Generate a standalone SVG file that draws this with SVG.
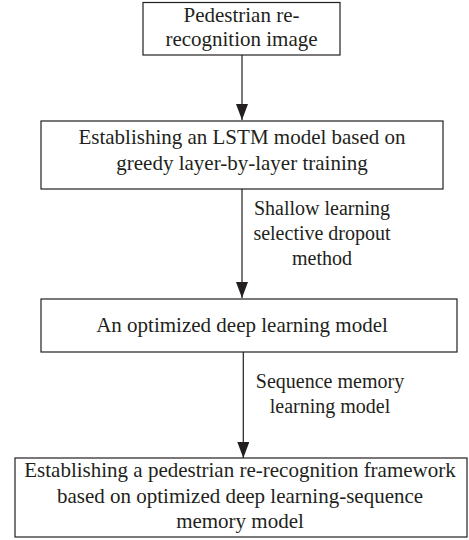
<svg xmlns="http://www.w3.org/2000/svg" width="469" height="540" viewBox="0 0 469 540">
<style>
.box{fill:#fff;stroke:#231f20;stroke-width:1.2}
.t{font-size:21px;fill:#231f20;text-anchor:middle}
.l{font-size:20px;fill:#231f20;text-anchor:middle}
.c{stroke:#231f20;stroke-width:1.2;fill:none}
</style>
<defs>
<marker id="ad" viewBox="0 0 12 16" refX="6" refY="16" markerWidth="12" markerHeight="16" markerUnits="userSpaceOnUse" orient="0">
<path d="M0,0 L12,0 L6,16 Z" fill="#231f20"/>
</marker>
</defs>
<g font-family="Liberation Serif, Times New Roman, serif">
<g id="connectors">
<line class="c" x1="242" y1="55" x2="242" y2="120" marker-end="url(#ad)"/>
<line class="c" x1="242" y1="189" x2="242" y2="298" marker-end="url(#ad)"/>
<line class="c" x1="243.3" y1="352" x2="243.3" y2="458" marker-end="url(#ad)"/>
<text class="l" x="322" y="215">Shallow learning</text>
<text class="l" x="322" y="240">selective dropout</text>
<text class="l" x="322" y="265">method</text>
<text class="l" x="330" y="388">Sequence memory</text>
<text class="l" x="330" y="413">learning model</text>
</g>
<g id="n1">
<rect class="box" x="143" y="2.5" width="197" height="52.5"/>
<text class="t" x="241.5" y="22">Pedestrian re-</text>
<text class="t" x="241.5" y="46">recognition image</text>
</g>
<g id="n2">
<rect class="box" x="41" y="121" width="402" height="68"/>
<text class="t" x="242" y="144">Establishing an LSTM model based on</text>
<text class="t" x="242" y="170">greedy layer-by-layer training</text>
</g>
<g id="n3">
<rect class="box" x="41" y="299" width="416" height="53"/>
<text class="t" x="242" y="332">An optimized deep learning model</text>
</g>
<g id="n4">
<rect class="box" x="15" y="458" width="452" height="79"/>
<text class="t" x="240" y="477">Establishing a pedestrian re-recognition framework</text>
<text class="t" x="240" y="503">based on optimized deep learning-sequence</text>
<text class="t" x="240" y="528">memory model</text>
</g>
</g>
</svg>
